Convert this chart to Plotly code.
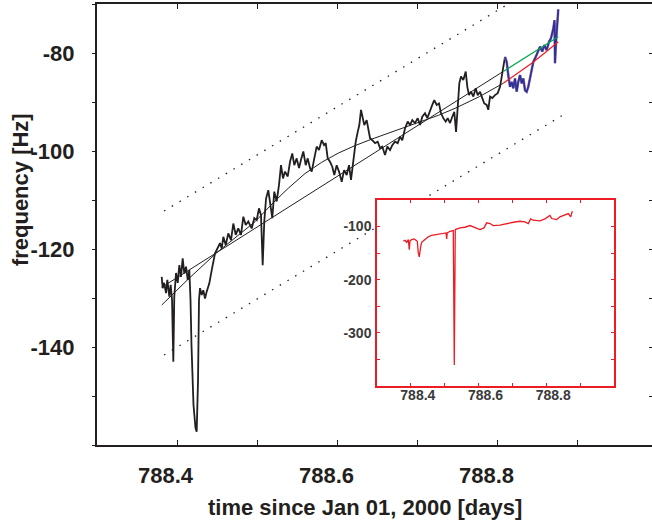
import plotly.graph_objects as go

# ---------------- data ----------------
# main measured frequency track (black)
t_main = [788.3809, 788.3821, 788.3838, 788.3863, 788.3879, 788.3904, 788.3921, 788.3938, 788.3954, 788.3966,
          788.3988, 788.4009, 788.4029, 788.4050, 788.4071, 788.4091, 788.4113, 788.4134, 788.4154, 788.4169,
          788.4181, 788.4206, 788.4231, 788.4246, 788.4263, 788.4275, 788.4288, 788.4309, 788.4329, 788.4350,
          788.4371, 788.4404, 788.4434, 788.4454, 788.4475, 788.4496, 788.4538, 788.4559, 788.4579, 788.4609,
          788.4641, 788.4675, 788.4704, 788.4734, 788.4766, 788.4800, 788.4829, 788.4859, 788.4891, 788.4934,
          788.4966, 788.4996, 788.5025, 788.5050, 788.5071, 788.5091, 788.5113, 788.5141, 788.5163, 788.5191,
          788.5216, 788.5246, 788.5275, 788.5300, 788.5325, 788.5350, 788.5384, 788.5413, 788.5441, 788.5466,
          788.5496, 788.5525, 788.5550, 788.5579, 788.5609, 788.5634, 788.5663, 788.5684, 788.5716, 788.5746,
          788.5775, 788.5809, 788.5838, 788.5859, 788.5884, 788.5913, 788.5941, 788.5966, 788.5996, 788.6025,
          788.6059, 788.6088, 788.6121, 788.6150, 788.6175, 788.6204, 788.6234, 788.6259, 788.6279, 788.6300,
          788.6321, 788.6341, 788.6371, 788.6391, 788.6413, 788.6441, 788.6475, 788.6509, 788.6538, 788.6566,
          788.6600, 788.6629, 788.6663, 788.6691, 788.6725, 788.6759, 788.6788, 788.6816, 788.6850, 788.6884,
          788.6913, 788.6941, 788.6975, 788.7009, 788.7038, 788.7066, 788.7100, 788.7129, 788.7163, 788.7191,
          788.7216, 788.7246, 788.7275, 788.7300, 788.7329, 788.7359, 788.7384, 788.7413, 788.7441, 788.7466,
          788.7488, 788.7509, 788.7529, 788.7550, 788.7579, 788.7609, 788.7629, 788.7650, 788.7675, 788.7704,
          788.7734, 788.7759, 788.7788, 788.7816, 788.7841, 788.7871, 788.7891, 788.7913, 788.7941, 788.7975,
          788.8009, 788.8038, 788.8059, 788.8079, 788.8100]
f_main = [-125.7, -128.0, -126.9, -129.0, -126.3, -129.7, -127.3, -130.4, -143.0, -129.7,
          -124.9, -126.9, -123.3, -125.7, -121.9, -125.0, -123.6, -126.3, -124.3, -130.4,
          -139.6, -151.8, -156.5, -157.3, -146.7, -130.4, -128.0, -129.4, -128.4, -130.1,
          -128.7, -127.0, -124.3, -122.6, -120.9, -120.2, -118.8, -119.9, -117.5, -119.2,
          -116.8, -118.2, -114.8, -117.1, -115.8, -117.1, -113.4, -115.1, -114.4, -115.8,
          -113.7, -114.1, -111.7, -113.1, -123.3, -114.4, -109.7, -108.0, -111.0, -113.7,
          -108.3, -110.3, -106.9, -102.9, -105.6, -104.2, -105.2, -102.2, -100.5, -102.9,
          -101.5, -103.5, -101.8, -100.1, -102.9, -101.5, -103.5, -104.2, -101.5, -99.1,
          -99.8, -97.8, -98.8, -98.4, -101.5, -102.2, -103.2, -104.9, -102.9, -104.2,
          -106.3, -103.9, -104.9, -102.9, -105.9, -101.5, -98.1, -96.1, -94.7, -91.6,
          -93.3, -94.7, -93.7, -95.4, -97.4, -97.8, -98.4, -98.1, -99.4, -99.1,
          -100.8, -99.1, -99.8, -98.8, -98.1, -98.4, -97.1, -97.8, -95.4, -94.0,
          -94.7, -93.7, -94.3, -93.3, -94.7, -93.0, -92.3, -93.3, -91.6, -90.6,
          -89.6, -90.6, -90.3, -92.3, -93.3, -94.0, -93.3, -94.3, -93.0, -92.0,
          -96.1, -90.3, -86.2, -84.8, -85.5, -83.8, -86.9, -88.6, -87.9, -88.9,
          -87.2, -88.6, -87.9, -89.2, -90.3, -90.6, -91.6, -88.9, -89.2, -88.6,
          -88.2, -86.9, -84.5, -83.1, -80.8]

# last part of the track (blue)
t_end = [788.8100, 788.8121, 788.8141, 788.8163, 788.8184, 788.8204, 788.8225, 788.8246, 788.8266, 788.8288,
         788.8309, 788.8329, 788.8350, 788.8371, 788.8391, 788.8413, 788.8434, 788.8454, 788.8484, 788.8516,
         788.8538, 788.8566, 788.8591, 788.8621, 788.8650, 788.8675, 788.8704, 788.8719, 788.8725, 788.8738,
         788.8754, 788.8766]
f_end = [-80.8, -81.8, -84.5, -86.9, -85.9, -87.2, -85.2, -87.9, -85.9, -84.5,
         -86.2, -85.2, -87.6, -87.9, -86.9, -85.2, -83.1, -81.8, -80.8, -79.7,
         -78.7, -79.7, -78.4, -79.4, -77.7, -77.0, -75.0, -73.3, -82.1, -77.7,
         -72.2, -71.1]

# linear fit (black, extrapolated part green)
t_lin = [788.3809, 788.8079]
f_lin = [-127.82, -83.76]
t_lin_ext = [788.8079, 788.8766]
f_lin_ext = [-83.76, -76.67]

# curved fit (black, extrapolated part red)
t_cur = [788.3809, 788.4150, 788.4496, 788.4750, 788.4975, 788.5200, 788.5391, 788.5600, 788.5809,
         788.6020, 788.6225, 788.6430, 788.6641, 788.6850, 788.7059, 788.7270, 788.7475, 788.7780, 788.8079]
f_cur = [-131.43, -126.00, -120.76, -117.50, -114.43, -110.60, -107.60, -104.60, -102.30,
         -100.40, -98.90, -97.60, -96.40, -95.20, -94.00, -92.70, -91.30, -88.90, -86.18]
t_cur_ext = [788.8079, 788.8250, 788.8434, 788.8600, 788.8766]
f_cur_ext = [-86.18, -84.20, -82.10, -79.95, -77.69]

# dotted bounds
t_up = [788.3838, 788.8100]
f_up = [-112.24, -70.4]
t_lo = [788.3838, 788.6500, None, 788.7059, 788.8825]
f_lo = [-141.63, -115.5, None, -110.0, -92.65]

# inset: raw track (red)
t_raw = [788.3777, 788.3827, 788.3877, 788.3924, 788.3954, 788.3975, 788.4025, 788.4093, 788.4152, 788.4190,
         788.4220, 788.4249, 788.4291, 788.4320, 788.4418, 788.4515, 788.4615, 788.4763, 788.4911, 788.5038,
         788.5058, 788.5076, 788.5156, 788.5253, 788.5283, 788.5312, 788.5451, 788.5599, 788.5747, 788.5894,
         788.6042, 788.6160, 788.6240, 788.6337, 788.6435, 788.6633, 788.6830, 788.7025, 788.7223, 788.7371,
         788.7468, 788.7539, 788.7616, 788.7814, 788.7962, 788.8059, 788.8109, 788.8160, 788.8307, 788.8405,
         788.8552, 788.8650, 788.8721, 788.8750, 788.8768]
f_raw = [-127.7, -125.8, -129.6, -124.5, -143.4, -126.4, -124.5, -123.2, -125.8, -127.7,
         -149.6, -157.2, -137.2, -129.6, -124.5, -119.4, -116.4, -115.1, -113.8, -111.9,
         -123.2, -111.9, -108.9, -107.5, -360.4, -105.7, -102.5, -101.3, -98.1, -102.5,
         -105.7, -102.5, -93.0, -94.3, -98.1, -97.5, -94.3, -91.9, -90.0, -91.1,
         -94.3, -85.5, -88.1, -89.2, -85.5, -81.7, -79.2, -84.9, -86.8, -81.7,
         -77.4, -75.5, -81.7, -73.0, -71.1]

# ticks
main_xticks = [788.3, 788.4, 788.5, 788.6, 788.7, 788.8, 788.9]
main_xlabel_vals = [788.4, 788.6, 788.8]
main_xlabel_text = ["788.4", "788.6", "788.8"]
main_yticks = [-160, -150, -140, -130, -120, -110, -100, -90, -80, -70]
main_ytext = ["", "", "-140", "", "-120", "", "-100", "", "-80", ""]
ins_xticks = [788.4, 788.5, 788.6, 788.7, 788.8, 788.9]
ins_xtext = ["788.4", "", "788.6", "", "788.8", ""]
ins_yticks = [-350, -300, -250, -200, -150, -100]
ins_ytext = ["", "-300", "", "-200", "", "-100"]

# ---------------- figure ----------------
INK = "#231f20"
RED = "#ed1c24"
FONT = "Liberation Sans, Arial, sans-serif"

fig = go.Figure()
dot = dict(color=INK, width=1.3, dash="1.5px,7.5px")
fig.add_trace(go.Scatter(x=t_up, y=f_up, mode="lines", line=dot, hoverinfo="skip"))
fig.add_trace(go.Scatter(x=t_lo, y=f_lo, mode="lines", line=dot, hoverinfo="skip"))
fig.add_trace(go.Scatter(x=t_main, y=f_main, mode="lines", line=dict(color=INK, width=1.8)))
fig.add_trace(go.Scatter(x=t_lin, y=f_lin, mode="lines", line=dict(color=INK, width=1)))
fig.add_trace(go.Scatter(x=t_cur, y=f_cur, mode="lines", line=dict(color=INK, width=1)))
fig.add_trace(go.Scatter(x=t_end, y=f_end, mode="lines", line=dict(color="#a07cc0", width=2.6)))
fig.add_trace(go.Scatter(x=t_end, y=f_end, mode="lines", line=dict(color="#2e3192", width=1.7)))
fig.add_trace(go.Scatter(x=t_lin_ext, y=f_lin_ext, mode="lines", line=dict(color="#00a651", width=1.2)))
fig.add_trace(go.Scatter(x=t_cur_ext, y=f_cur_ext, mode="lines", line=dict(color=RED, width=1.2)))
# right-side mirrored ticks
fig.add_trace(go.Scatter(x=[], y=[], yaxis="y3", hoverinfo="skip"))
# inset
fig.add_trace(go.Scatter(x=t_raw, y=f_raw, mode="lines", xaxis="x2", yaxis="y2",
                         line=dict(color=RED, width=1.3)))

tick_font = dict(family=FONT, size=22, color=INK, weight="bold")
ins_font = dict(family=FONT, size=14, color="#3a3a3a", weight="bold")

annotations = [
    dict(text=txt, x=v, xref="x", y=0, yref="paper", xanchor="center", yanchor="middle",
         xshift=-11, yshift=-30, showarrow=False, font=tick_font)
    for v, txt in zip(main_xlabel_vals, main_xlabel_text)
]
annotations += [
    dict(text="time since Jan 01, 2000 [days]", xref="paper", yref="paper",
         x=0.4829, y=-0.1406, xanchor="center", yanchor="middle", showarrow=False,
         font=dict(family=FONT, size=22, color=INK, weight="bold")),
    dict(text="frequency [Hz]", xref="paper", yref="paper", textangle=-90,
         x=-0.1387, y=0.578, xanchor="center", yanchor="middle", showarrow=False,
         font=dict(family=FONT, size=22, color=INK, weight="bold")),
]

fig.update_layout(
    width=652, height=523,
    margin=dict(l=97, r=0, t=4, b=78, autoexpand=False),
    paper_bgcolor="white", plot_bgcolor="white",
    showlegend=False,
    xaxis=dict(range=[788.3, 788.99375], tickvals=main_xticks, showticklabels=False,
               ticks="inside", ticklen=5, tickwidth=1.3, tickcolor=INK,
               showline=True, linewidth=1.5, linecolor=INK, mirror="ticks",
               showgrid=False, zeroline=False, automargin=False),
    yaxis=dict(range=[-160, -70], tickvals=main_yticks, ticktext=main_ytext,
               ticks="outside", ticklen=3, tickwidth=1, tickcolor=INK,
               showline=True, linewidth=2, linecolor=INK, automargin=False,
               showgrid=False, zeroline=False, tickfont=tick_font,
               ticklabelstandoff=13),
    yaxis3=dict(overlaying="y", side="right", anchor="x", range=[-160, -70],
                tickvals=main_yticks, ticks="inside", ticklen=3, tickcolor=INK,
                showticklabels=False, showline=False, showgrid=False, zeroline=False,
                automargin=False),
    xaxis2=dict(domain=[0.5045, 0.9315], anchor="y2", range=[788.3, 789.0],
                tickvals=ins_xticks, ticktext=ins_xtext,
                ticks="inside", ticklen=3, tickcolor=RED,
                showline=True, linewidth=1.5, linecolor=RED, mirror="ticks",
                showgrid=False, zeroline=False, tickfont=ins_font, automargin=False,
                ticklabelshift=7, ticklabelstandoff=-5),
    yaxis2=dict(domain=[0.1338, 0.5556], anchor="x2", range=[-400, -50],
                tickvals=ins_yticks, ticktext=ins_ytext,
                ticks="inside", ticklen=3, tickcolor=RED,
                showline=True, linewidth=1.5, linecolor=RED, mirror="ticks",
                showgrid=False, zeroline=False, tickfont=ins_font, automargin=False,
                ticklabelstandoff=1),
    annotations=annotations,
)

fig.write_html("out.html", config={"displayModeBar": False},
               post_script="document.body.style.margin='0';document.body.style.padding='0';")
